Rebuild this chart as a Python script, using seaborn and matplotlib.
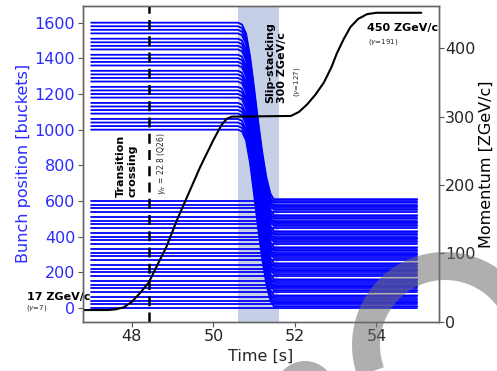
import numpy as np
import pandas as pd
import matplotlib
matplotlib.use("Agg")
import matplotlib.pyplot as plt
import seaborn as sns
from matplotlib.patches import Wedge, Circle

# bunch positions [buckets] of the first batch (7 trains of 4 bunches)
lower_batch = [0, 20, 40, 60, 90, 110, 130, 150, 180, 200, 220, 240,
               270, 290, 310, 330, 360, 380, 400, 420, 450, 470, 490, 510,
               540, 560, 580, 600]
# second batch, injected ~1000 buckets later
upper_batch = [1000, 1020, 1040, 1060, 1090, 1110, 1130, 1150, 1180, 1200,
               1220, 1240, 1270, 1290, 1310, 1330, 1360, 1380, 1400, 1420,
               1450, 1470, 1490, 1510, 1540, 1560, 1580, 1600]

t_start = 47.0
t_end = 55.0

# drift of the second batch during slip-stacking
slip_time = [50.60, 50.70, 50.80, 50.90, 51.00, 51.10, 51.20, 51.30, 51.40, 51.48]
slip_shift = [0, 10, 60, 190, 370, 560, 730, 870, 960, 990]

# momentum ramp
mom_time = [46.80, 47.40, 47.60, 47.80, 48.00, 48.20, 48.41, 48.60, 48.85,
            49.10, 49.43, 49.68, 50.00, 50.20, 50.33, 50.45, 51.90, 52.10,
            52.30, 52.50, 52.71, 52.90, 53.03, 53.20, 53.36, 53.55, 53.77,
            54.00, 55.10]
mom_value = [17, 17, 18, 21, 29, 42, 57, 80, 110, 148, 193, 227, 266, 288,
             297, 300, 301, 307, 318, 332, 350, 373, 393, 414, 431, 443, 450,
             452, 452]

t_transition = 48.41
slip_window = (50.60, 51.62)

# long table of bunch trajectories
rows = []
for i, p in enumerate(lower_batch):
    rows.append((f"a{i}", t_start, p))
    rows.append((f"a{i}", t_end, p))
for i, p in enumerate(upper_batch):
    rows.append((f"b{i}", t_start, p))
    for t, s in zip(slip_time, slip_shift):
        rows.append((f"b{i}", t, p - s))
    rows.append((f"b{i}", t_end, p - slip_shift[-1]))
bunches = pd.DataFrame(rows, columns=["bunch", "time", "position"])
momentum = pd.DataFrame({"time": mom_time, "momentum": mom_value})

sns.set_style("ticks")
plt.rcParams["font.family"] = ["DejaVu Sans"]

fig = plt.figure(figsize=(4.97, 3.71), dpi=100)
ax = fig.add_axes([0.167, 0.133, 0.716, 0.851])
ax2 = ax.twinx()

ax.axvspan(*slip_window, color="#c5d0e7", lw=0, zorder=0)
sns.lineplot(data=bunches, x="time", y="position", units="bunch",
             estimator=None, color="#0000ff", lw=1.3, ax=ax, zorder=2)
ax.axvline(t_transition, color="black", lw=1.8, ls=(0, (4, 2.5)), zorder=3)

sns.lineplot(data=momentum, x="time", y="momentum", color="black", lw=1.5,
             ax=ax2)

ax.set_xlim(46.8, 55.53)
ax.set_ylim(-77, 1694)
ax2.set_ylim(0, 462)
ax.set_xticks([48, 50, 52, 54])
ax.set_yticks(range(0, 1601, 200))
ax2.set_yticks(range(0, 401, 100))

ax.set_xlabel("Time [s]", fontsize=11.5, labelpad=3)
ax.set_ylabel("Bunch position [buckets]", fontsize=11.5, color="#2b2bff",
              labelpad=3)
ax2.set_ylabel("Momentum [ZGeV/c]", fontsize=11.5, color="black",
               labelpad=2)
ax.tick_params(axis="y", labelsize=11.5, labelcolor="#2b2bff",
               color="#555555", pad=2)
ax.tick_params(axis="x", labelsize=11.5, color="#555555", pad=2)
ax2.tick_params(axis="y", labelsize=11.5, color="#555555", pad=1)
for a in (ax, ax2):
    for sp in a.spines.values():
        sp.set_visible(True)
        sp.set_color("#666666")
        sp.set_linewidth(1.0)

# annotations
bold = dict(fontsize=8, fontweight="bold", color="black")
ax.text(47.86, 622, "Transition\ncrossing", rotation=90, ha="center",
        va="bottom", multialignment="left", zorder=5, **bold)
ax.text(48.72, 634, r"$\gamma_{tr}$ = 22.8 (Q26)", rotation=90, ha="center",
        va="bottom", fontsize=5.5, zorder=5)
ax.text(51.53, 1150, "Slip-stacking\n300 ZGeV/c", rotation=90, ha="center",
        va="bottom", multialignment="left", zorder=5, **bold)
ax.text(52.06, 1183, r"($\gamma$=127)", rotation=90, ha="center",
        va="bottom", fontsize=5, zorder=5)
ax.text(53.77, 1569, "450 ZGeV/c", ha="left", va="center", zorder=5, **bold)
ax.text(53.80, 1494, r"($\gamma$=191)", ha="left", va="center", fontsize=5,
        zorder=5)
ax.text(45.43, 63, "17 ZGeV/c", ha="left", va="center", clip_on=False,
        zorder=5, **bold)
ax.text(45.41, 0, r"($\gamma$=7)", ha="left", va="center", fontsize=5,
        clip_on=False, zorder=5)

# grey watermark shapes drawn over the figure (pixel coordinates)
fig.patches.append(Wedge((445, 26), 93, 35, 200, width=28, transform=None,
                         facecolor="#6e6e6e", alpha=0.55, lw=0,
                         figure=fig))
fig.patches.append(Circle((305, -20), 30, transform=None,
                          facecolor="#6e6e6e", alpha=0.55, lw=0, figure=fig))

fig.savefig("out.png", dpi=100)
